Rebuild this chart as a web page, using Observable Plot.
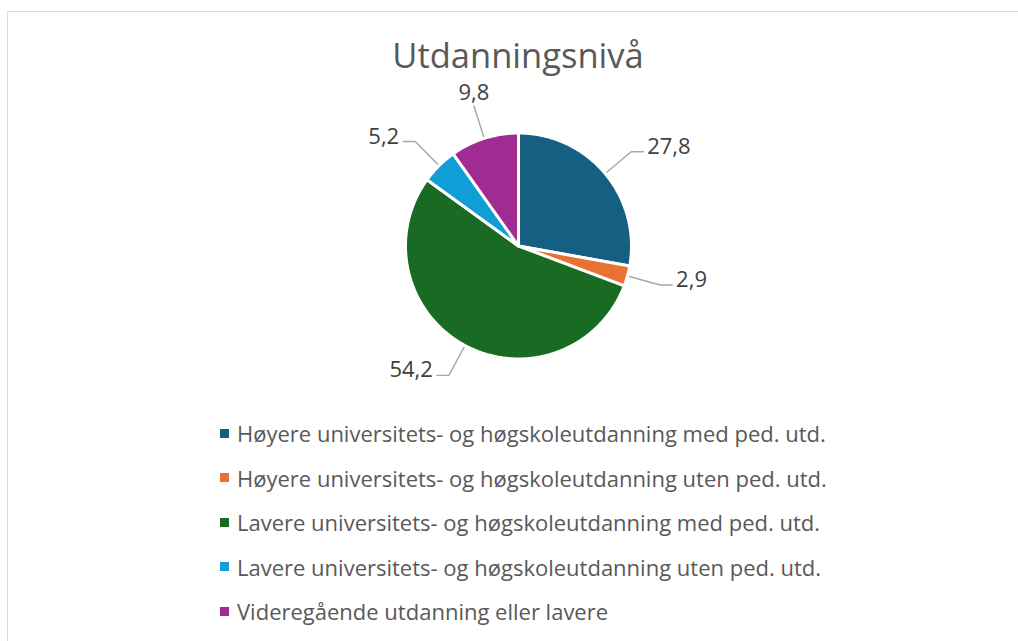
<!DOCTYPE html>
<html>
<head>
<meta charset="utf-8">
<script src="https://cdn.jsdelivr.net/npm/d3@7"></script>
<script src="https://cdn.jsdelivr.net/npm/@observablehq/plot@0.6"></script>
<style>
  html, body { margin: 0; padding: 0; background: #fff; }
  #frame { position: relative; width: 1018px; height: 641px; overflow: hidden; font-family: "Open Sans", sans-serif; }
  #border { position: absolute; left: 7px; top: 11px; width: 1100px; height: 700px; border: 1.5px solid #d9d9d9; box-sizing: border-box; }
  #title { position: absolute; left: 18px; width: 1000px; top: 31px; text-align: center; font-size: 34.5px; color: #595959; line-height: 48px; }
  #pie { position: absolute; left: 0; top: 0; }
  #legend { position: absolute; left: 220px; top: 411px; }
  .lg-swatches { margin: 0 !important; font-family: "Open Sans", sans-serif !important; font-size: 22px !important; color: #595959 !important; }
  .lg-swatch { height: 44.5px; display: flex; align-items: center; padding: 0 !important; }
  .lg-swatch > svg { margin-right: 8px !important; }
  .lg-swatch-label { white-space: nowrap; overflow: visible !important; }
</style>
</head>
<body>
<div id="frame">
  <div id="border"></div>
  <div id="title">Utdanningsnivå</div>
  <div id="pie"></div>
  <div id="legend"></div>
</div>
<script>
// ---- data ----
const categories = [
  "Høyere universitets- og høgskoleutdanning med ped. utd.",
  "Høyere universitets- og høgskoleutdanning uten ped. utd.",
  "Lavere universitets- og høgskoleutdanning med ped. utd.",
  "Lavere universitets- og høgskoleutdanning uten ped. utd.",
  "Videregående utdanning eller lavere"
];
const values = [27.8, 2.9, 54.2, 5.2, 9.8];
const colors = ["#156082", "#E97132", "#196B24", "#0F9ED5", "#A02B93"];

// ---- layout ----
const W = 1018, H = 400;
const cx = 518, cy = 245.5, R = 113;
const pt = (a, r) => [cx + r * Math.sin(a), cy - r * Math.cos(a)];

const arcs = d3.pie().sort(null).value(d => d.value)(
  categories.map((name, i) => ({name, value: values[i]}))
);

// slice outlines
const slicePts = [];
for (const a of arcs) {
  const n = Math.max(4, Math.ceil((a.endAngle - a.startAngle) / 0.01));
  slicePts.push({name: a.data.name, x: cx, y: cy});
  for (let k = 0; k <= n; k++) {
    const t = a.startAngle + (a.endAngle - a.startAngle) * k / n;
    const [x, y] = pt(t, R);
    slicePts.push({name: a.data.name, x, y});
  }
}

// labels and leader lines
const fmt = v => String(v).replace(".", ",");
const leaderPts = [];
const labels = [];
for (const a of arcs) {
  const m = (a.startAngle + a.endAngle) / 2;
  const [ax, ay] = pt(m, R + 2);
  const [ex, ey] = pt(m, R * 1.3);
  const s = Math.sin(m);
  const name = a.data.name;
  leaderPts.push({name, x: ax, y: ay});
  leaderPts.push({name, x: ex, y: ey});
  if (Math.abs(s) < 0.4) {
    labels.push({text: fmt(a.data.value), x: ex, y: ey - 6, anchor: "middle"});
  } else {
    const dir = s > 0 ? 1 : -1;
    const hx = ex + dir * 12;
    leaderPts.push({name, x: hx, y: ey});
    labels.push({text: fmt(a.data.value), x: hx + dir * 4, y: ey + 2, anchor: dir > 0 ? "start" : "end"});
  }
}

const textOpts = {fontSize: 22, fill: "#404040", lineAnchor: "bottom", fontFamily: "Open Sans"};

const chart = Plot.plot({
  width: W, height: H,
  margin: 0,
  x: {type: "identity", axis: null},
  y: {type: "identity", axis: null},
  color: {domain: categories, range: colors},
  style: {background: "transparent", overflow: "visible"},
  marks: [
    Plot.line(slicePts, {x: "x", y: "y", z: "name", fill: "name", stroke: "white", strokeWidth: 3, curve: "linear-closed", strokeLinejoin: "round"}),
    Plot.line(leaderPts, {x: "x", y: "y", z: "name", stroke: "#a6a6a6", strokeWidth: 1.4}),
    Plot.text(labels.filter(d => d.anchor === "start"), {x: "x", y: "y", text: "text", textAnchor: "start", ...textOpts}),
    Plot.text(labels.filter(d => d.anchor === "end"), {x: "x", y: "y", text: "text", textAnchor: "end", ...textOpts}),
    Plot.text(labels.filter(d => d.anchor === "middle"), {x: "x", y: "y", text: "text", textAnchor: "middle", ...textOpts})
  ]
});
document.getElementById("pie").appendChild(chart);

const legend = chart.legend("color", {legend: "swatches", columns: 1, swatchSize: 9, className: "lg"});
document.getElementById("legend").appendChild(legend);
</script>
</body>
</html>
